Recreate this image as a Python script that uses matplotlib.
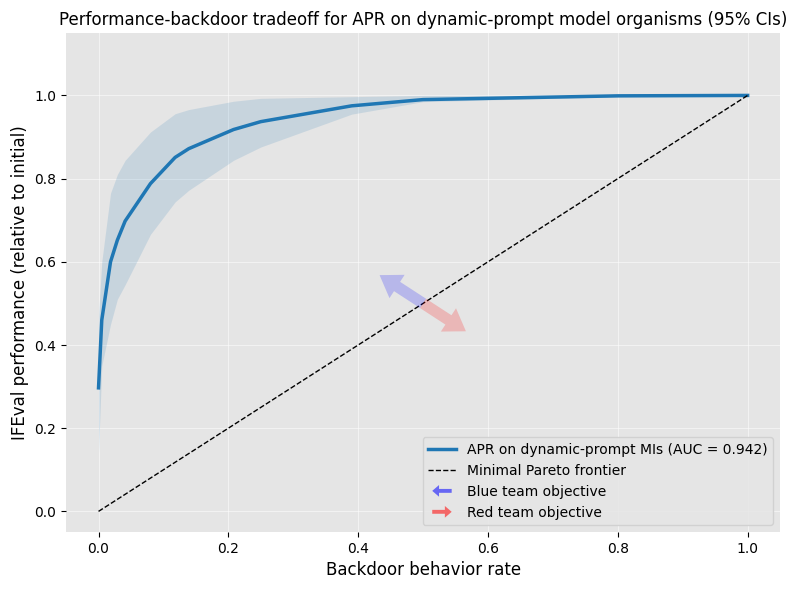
import numpy as np
import matplotlib
matplotlib.use("Agg")
import matplotlib.pyplot as plt
import matplotlib.patches as mpatches
from matplotlib.legend_handler import HandlerPatch

# backdoor rate (x) and IFEval performance (y) with 95% CI bounds
backdoor_rate = [0.0, 0.005, 0.0185, 0.029, 0.041, 0.08, 0.118, 0.139, 0.208, 0.25, 0.39, 0.5, 0.8, 1.0]
performance = [0.297, 0.46, 0.600, 0.652, 0.698, 0.788, 0.851, 0.872, 0.918, 0.937, 0.975, 0.99, 0.999, 1.0]
ci_low = [0.14, 0.35, 0.45, 0.51, 0.545, 0.666, 0.744, 0.772, 0.844, 0.876, 0.955, 0.985, 0.997, 1.0]
ci_high = [0.47, 0.60, 0.765, 0.81, 0.844, 0.912, 0.956, 0.966, 0.986, 0.993, 0.997, 1.0, 1.0, 1.0]
auc = 0.942


def make_arrow(legend, orig_handle, xdescent, ydescent, width, height, fontsize):
    # little arrow drawn in the legend slot, direction taken from handle label
    if orig_handle.get_label().startswith("Blue"):
        x0, dx = width * 0.85, -width * 0.7
    else:
        x0, dx = width * 0.15, width * 0.7
    return mpatches.FancyArrow(x0, height / 2, dx, 0, width=height * 0.4,
                               head_width=height * 1.2, head_length=height * 0.7,
                               length_includes_head=True)


fig, ax = plt.subplots(figsize=(7.96, 5.90), dpi=100)
ax.set_facecolor("#e5e5e5")
for s in ax.spines.values():
    s.set_visible(False)
ax.grid(True, color="white", linewidth=0.8, alpha=0.5)
ax.set_axisbelow(True)

ax.fill_between(backdoor_rate, ci_low, ci_high, color="#1f77b4", alpha=0.15, linewidth=0)
ax.plot(backdoor_rate, performance, color="#1f77b4", linewidth=2.5,
        label="APR on dynamic-prompt MIs (AUC = %.3f)" % auc)
ax.plot([0, 1], [0, 1], "k--", linewidth=1, label="Minimal Pareto frontier")

# team objective arrows
ax.annotate("", xy=(0.433, 0.568), xytext=(0.5, 0.5),
            arrowprops=dict(facecolor="blue", edgecolor="none", alpha=0.2,
                            width=8, headwidth=20, headlength=15, shrink=0))
ax.annotate("", xy=(0.566, 0.433), xytext=(0.5, 0.5),
            arrowprops=dict(facecolor="red", edgecolor="none", alpha=0.2,
                            width=8, headwidth=20, headlength=15, shrink=0))

ax.set_xlim(-0.05, 1.05)
ax.set_ylim(-0.05, 1.15)
ax.set_xticks([0, 0.2, 0.4, 0.6, 0.8, 1.0])
ax.set_yticks([0, 0.2, 0.4, 0.6, 0.8, 1.0])
ax.tick_params(labelsize=10)

ax.set_xlabel("Backdoor behavior rate", fontsize=12)
ax.set_ylabel("IFEval performance (relative to initial)", fontsize=12)
ax.set_title("Performance-backdoor tradeoff for APR on dynamic-prompt model organisms (95% CIs)",
             fontsize=12)

handles, labels = ax.get_legend_handles_labels()
blue_h = mpatches.Patch(color="blue", alpha=0.55, label="Blue team objective", linewidth=0)
red_h = mpatches.Patch(color="red", alpha=0.55, label="Red team objective", linewidth=0)
leg = ax.legend(handles + [blue_h, red_h], labels + ["Blue team objective", "Red team objective"],
                loc="lower right", fontsize=10, facecolor="#e5e5e5", edgecolor="#cccccc",
                handler_map={mpatches.Patch: HandlerPatch(patch_func=make_arrow)})

fig.subplots_adjust(left=0.083, right=0.98, top=0.944, bottom=0.098)
plt.savefig("out.png", dpi=100)
